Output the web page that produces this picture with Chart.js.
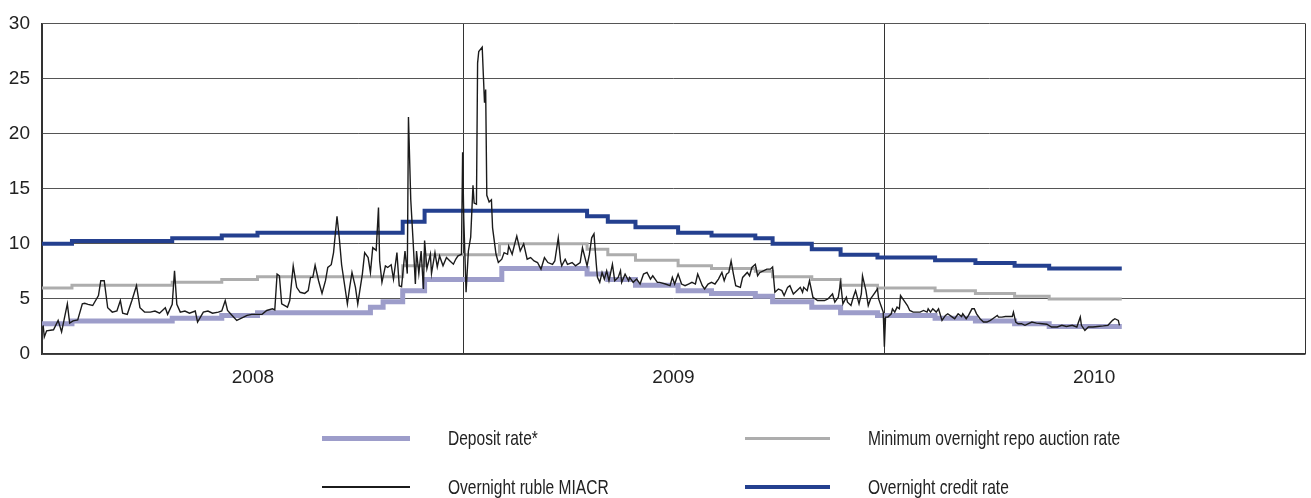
<!DOCTYPE html>
<html>
<head>
<meta charset="utf-8">
<script src="https://cdn.jsdelivr.net/npm/chart.js@4/dist/chart.umd.min.js"></script>
<style>
  html, body { margin: 0; padding: 0; background: #fff; }
  #wrap { position: relative; width: 1311px; height: 498px; }
  #legend { position: absolute; left: 0; top: 0; width: 1311px; height: 498px; pointer-events: none;
            font-family: 'Liberation Sans', Arial, sans-serif; font-size: 21px; color: #222; }
  .swatch { position: absolute; }
  .label { position: absolute; line-height: 22px; white-space: nowrap;
           transform: scaleX(0.74); transform-origin: left center; }
</style>
</head>
<body>
<div id="wrap">
  <canvas id="rates" width="1311" height="498"></canvas>
  <div id="legend"></div>
</div>
<script>
// x values are days counted from 1 Jan 2008
const yearLabels = ["2008", "2009", "2010"];
const yearMidDays = [183, 548, 913];
const yearEdgeDays = [0, 366, 731, 1096];

const depositDays = [0, 26, 113, 156, 187, 285, 296, 313, 332, 399, 473, 491, 515, 552, 581, 619, 634, 668, 693, 725, 775, 810, 844, 874, 937];
const depositRate = [2.75, 3, 3.25, 3.5, 3.75, 4.25, 4.75, 5.75, 6.75, 7.75, 7.25, 6.75, 6.25, 5.75, 5.5, 5.25, 4.75, 4.25, 3.75, 3.5, 3.25, 3, 2.75, 2.5, 2.5];

const repoDays = [0, 26, 113, 156, 187, 313, 332, 397, 473, 491, 515, 552, 581, 619, 634, 668, 693, 725, 775, 810, 844, 874, 937];
const repoRate = [6, 6.25, 6.5, 6.75, 7, 8, 9, 10, 9.5, 9, 8.5, 8, 7.75, 7.5, 7, 6.75, 6.25, 6, 5.75, 5.5, 5.25, 5, 5];

const creditDays = [0, 26, 113, 156, 187, 313, 332, 473, 491, 515, 552, 581, 619, 634, 668, 693, 725, 775, 810, 844, 874, 937];
const creditRate = [10, 10.25, 10.5, 10.75, 11, 12, 13, 12.5, 12, 11.5, 11, 10.75, 10.5, 10, 9.5, 9, 8.75, 8.5, 8.25, 8, 7.75, 7.75];

const miacrDays = [
  1, 2, 4, 10, 14, 17, 22, 24, 27, 31, 35, 37, 40, 44, 49, 51, 54, 57, 61, 65,
  68, 70, 74, 78, 82, 85, 89, 94, 98, 102, 107, 109, 113, 115, 117, 120, 124, 128, 133, 135,
  140, 144, 148, 153, 156, 159, 161, 165, 169, 174, 178, 182, 187, 191, 195, 200, 202, 204, 206, 208,
  213, 215, 218, 221, 224, 228, 231, 233, 235, 237, 240, 243, 246, 248, 251, 253, 256, 258, 260, 265,
  267, 269, 272, 274, 278, 280, 283, 285, 287, 290, 292, 293, 295, 298, 300, 303, 305, 308, 310, 312,
  315, 317, 318, 320, 322, 324, 325, 327, 329, 331, 332, 334, 337, 338, 341, 343, 345, 348, 351, 354,
  357, 359, 361, 364, 365, 366, 368, 370, 372, 374, 375, 377, 378, 379, 382, 383, 384, 385, 386, 388,
  390, 391, 394, 396, 399, 401, 404, 405, 408, 410, 412, 415, 418, 421, 424, 427, 430, 433, 436, 439,
  443, 445, 448, 450, 451, 454, 456, 460, 463, 467, 469, 473, 475, 477, 479, 481, 482, 484, 486, 488,
  490, 492, 495, 497, 500, 502, 503, 506, 509, 510, 513, 516, 519, 522, 525, 528, 530, 534, 536, 541,
  545, 547, 549, 552, 555, 558, 561, 564, 567, 569, 573, 575, 578, 581, 584, 587, 590, 592, 594, 596,
  598, 600, 602, 606, 608, 612, 614, 616, 619, 621, 623, 626, 629, 632, 634, 636, 639, 642, 644, 647,
  649, 652, 655, 658, 660, 661, 664, 666, 669, 671, 673, 677, 679, 682, 686, 688, 691, 693, 695, 698,
  699, 702, 704, 706, 709, 711, 712, 715, 717, 719, 721, 725, 726, 728, 730, 731, 732, 734, 737, 738,
  740, 742, 744, 745, 747, 751, 753, 756, 759, 762, 765, 768, 769, 771, 773, 776, 778, 781, 784, 786,
  790, 792, 795, 798, 799, 802, 804, 807, 809, 811, 814, 817, 820, 823, 825, 829, 830, 833, 836, 838,
  842, 843, 845, 847, 850, 853, 856, 859, 863, 868, 872, 876, 881, 885, 889, 894, 898, 901, 902, 905,
  908, 912, 916, 921, 925, 929, 931, 934, 935
];
const miacrRate = [
  2.6, 1.55, 2.1, 2.2, 3.05, 2.0, 4.55, 2.8, 3.0, 3.1, 4.55, 4.6, 4.5, 4.4, 5.3, 6.65, 6.65, 4.2, 3.8, 3.9,
  4.85, 3.7, 3.6, 4.85, 6.2, 4.2, 3.8, 3.8, 3.9, 3.7, 4.2, 3.6, 4.5, 7.55, 4.5, 3.8, 3.9, 3.7, 3.9, 2.9,
  3.8, 3.9, 3.7, 3.8, 3.9, 4.85, 3.95, 3.5, 3.05, 3.3, 3.5, 3.6, 3.6, 3.6, 3.95, 4.1, 4.0, 7.25, 7.1, 4.55,
  4.25, 4.85, 8.0, 6.05, 5.6, 5.5, 5.75, 6.95, 6.95, 8.05, 6.65, 5.5, 6.65, 7.85, 8.1, 9.2, 12.5, 10.5, 8.1, 4.55,
  6.05, 7.4, 6.05, 4.55, 7.25, 9.2, 8.75, 7.4, 9.65, 9.4, 13.3, 8.45, 6.5, 8.0, 7.85, 8.1, 6.8, 9.2, 6.2, 6.1,
  9.35, 7.3, 21.5, 14, 10.3, 6.35, 9.35, 7.3, 9.35, 5.9, 10.3, 7.75, 9.05, 7.3, 9.2, 7.9, 8.9, 8.0, 8.75, 8.45,
  8.15, 8.6, 8.9, 9.05, 18.3, 12.3, 5.6, 9.35, 10.6, 15.3, 13.7, 13.6, 26.4, 27.45, 27.85, 25.3, 22.8, 24.0, 14.4, 13.8,
  14.0, 11.45, 9.05, 8.3, 8.6, 9.2, 9.05, 9.8, 9.05, 9.9, 10.7, 9.35, 10.0, 8.6, 8.75, 8.45, 8.3, 7.7, 8.74, 8.3,
  8.14, 8.44, 10.54, 8.44, 8.0, 8.6, 8.14, 8.3, 8.0, 8.3, 9.64, 8.0, 9.04, 10.54, 10.9, 8.14, 6.95, 6.5, 7.4, 6.8,
  7.55, 6.65, 8.14, 6.65, 6.95, 7.55, 6.5, 7.25, 6.65, 6.95, 6.5, 6.8, 6.35, 7.25, 7.4, 6.8, 7.1, 6.5, 6.5, 6.35,
  6.2, 6.95, 6.35, 7.25, 6.35, 6.2, 6.35, 6.5, 6.35, 7.25, 6.2, 5.9, 6.35, 6.5, 6.35, 6.8, 7.4, 6.65, 7.25, 7.4,
  8.44, 7.25, 6.2, 6.05, 6.95, 7.4, 7.1, 7.85, 8.14, 7.1, 7.4, 7.55, 7.7, 7.7, 7.9, 5.6, 5.9, 5.75, 5.3, 6.05,
  6.2, 5.45, 5.75, 6.05, 5.6, 6.05, 5.75, 6.65, 5.15, 5.0, 4.85, 4.85, 4.85, 5.0, 5.45, 4.7, 5.15, 6.5, 4.55, 5.15,
  4.7, 4.4, 5.15, 5.75, 4.55, 5.45, 7.1, 5.75, 4.4, 5.0, 5.3, 5.9, 5.0, 4.4, 3.8, 0.66, 3.35, 3.35, 3.65, 4.1,
  3.8, 4.25, 4.1, 5.3, 5.0, 4.4, 3.95, 3.8, 3.8, 3.8, 3.95, 3.8, 4.1, 3.8, 4.1, 3.8, 4.1, 3.05, 3.5, 3.65,
  3.35, 3.2, 3.65, 3.4, 3.65, 3.2, 3.5, 4.1, 4.1, 3.65, 3.2, 2.9, 2.9, 3.05, 3.2, 3.5, 3.35, 3.35, 3.4, 3.4,
  3.4, 3.8, 2.9, 2.75, 2.75, 2.6, 2.75, 2.9, 2.8, 2.75, 2.7, 2.45, 2.45, 2.6, 2.5, 2.6, 2.45, 3.35, 2.6, 2.15,
  2.45, 2.45, 2.5, 2.55, 2.6, 3.05, 3.2, 3.05, 2.6
];

const FONT = "'Liberation Sans', Arial, sans-serif";

function points(days, rates) {
  return days.map((d, i) => ({ x: d, y: rates[i] }));
}

const series = [
  { label: "Deposit rate*", days: depositDays, rates: depositRate, color: "#9d9dca", width: 5, stepped: true, order: 4 },
  { label: "Minimum overnight repo auction rate", days: repoDays, rates: repoRate, color: "#adadad", width: 3, stepped: true, order: 3 },
  { label: "Overnight ruble MIACR", days: miacrDays, rates: miacrRate, color: "#1b1b1b", width: 1.4, stepped: false, order: 1 },
  { label: "Overnight credit rate", days: creditDays, rates: creditRate, color: "#24408f", width: 4, stepped: true, order: 2 }
];

const xTicks = yearEdgeDays.concat(yearMidDays).sort((a, b) => a - b);

new Chart(document.getElementById("rates"), {
  type: "line",
  data: {
    datasets: series.map(s => ({
      label: s.label,
      data: points(s.days, s.rates),
      borderColor: s.color,
      borderWidth: s.width,
      stepped: s.stepped,
      order: s.order,
      pointRadius: 0,
      tension: 0,
      fill: false
    }))
  },
  options: {
    responsive: false,
    animation: false,
    devicePixelRatio: 1,
    layout: { padding: { top: 20, right: 6, left: 0, bottom: 0 } },
    plugins: { legend: { display: false }, tooltip: { enabled: false } },
    scales: {
      x: {
        type: "linear",
        min: 0,
        max: 1096,
        afterBuildTicks: axis => { axis.ticks = xTicks.map(v => ({ value: v })); },
        afterFit: axis => {
          axis.height = 144;
          axis.paddingLeft = 0;
          axis.paddingRight = 0;
        },
        ticks: {
          autoSkip: false,
          maxRotation: 0,
          padding: 12,
          color: "#222",
          font: { family: FONT, size: 19 },
          callback: v => {
            const i = yearMidDays.indexOf(v);
            return i >= 0 ? yearLabels[i] : "";
          }
        },
        grid: {
          drawTicks: false,
          color: c => (c.tick && yearEdgeDays.includes(c.tick.value)) ? "#333" : "rgba(0,0,0,0)",
          lineWidth: 1
        },
        border: { color: "#333", width: 1.5 }
      },
      y: {
        min: 0,
        max: 30,
        afterFit: axis => { axis.width = 42; },
        ticks: { stepSize: 5, padding: 12, color: "#222", font: { family: FONT, size: 19 } },
        grid: { drawTicks: false, color: "#555", lineWidth: 1 },
        border: { color: "#333", width: 1.5 }
      }
    }
  }
});

// legend in two rows and two columns under the chart
const legendPos = [
  { lineX: 322, lineW: 88, textX: 448, y: 438 },
  { lineX: 745, lineW: 85, textX: 868, y: 438 },
  { lineX: 322, lineW: 88, textX: 448, y: 487 },
  { lineX: 745, lineW: 85, textX: 868, y: 487 }
];
const legend = document.getElementById("legend");
series.forEach((s, i) => {
  const p = legendPos[i];
  const sw = document.createElement("div");
  sw.className = "swatch";
  sw.style.left = p.lineX + "px";
  sw.style.width = p.lineW + "px";
  sw.style.height = s.width + "px";
  sw.style.top = (p.y - s.width / 2) + "px";
  sw.style.background = s.color;
  legend.appendChild(sw);
  const tx = document.createElement("div");
  tx.className = "label";
  tx.style.left = p.textX + "px";
  tx.style.top = (p.y - 11) + "px";
  tx.textContent = s.label;
  legend.appendChild(tx);
});
</script>
</body>
</html>
